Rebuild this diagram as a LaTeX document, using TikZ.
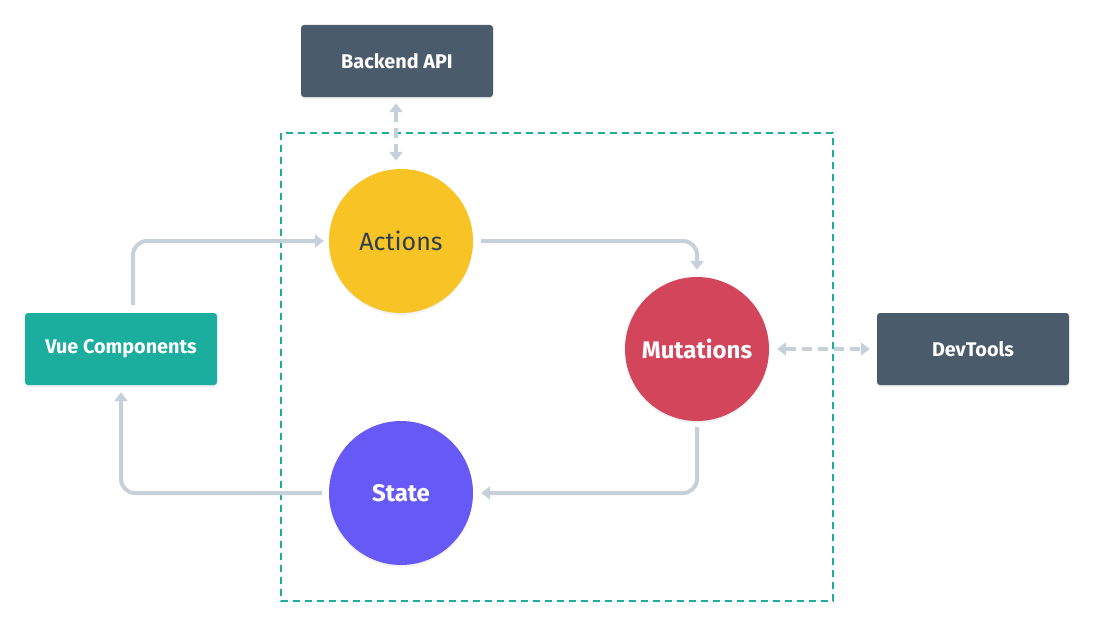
\documentclass[tikz,border=0pt]{standalone}
\usepackage{fontspec}
\setmainfont{Fira Sans}
\usetikzlibrary{arrows.meta,shadows}
\definecolor{vslate}{HTML}{4A5B6B}
\definecolor{vteal}{HTML}{1BAE9F}
\definecolor{vyellow}{HTML}{F8C425}
\definecolor{vred}{HTML}{D2455A}
\definecolor{vpurple}{HTML}{6759F5}
\definecolor{vline}{HTML}{C5D1DA}
\definecolor{vtext}{HTML}{2C3E50}
\definecolor{vdash}{HTML}{1BAE9F}
\begin{document}
\begin{tikzpicture}[x=1pt,y=-1pt,
  box/.style={rectangle, rounded corners=3pt, minimum width=192pt, minimum height=72pt,
    text=white, font=\bfseries\fontsize{19.8}{22}\selectfont, inner sep=0pt,
    drop shadow={opacity=.12, shadow xshift=0pt, shadow yshift=-2pt}},
  circ/.style={circle, minimum size=144pt, inner sep=0pt, font=\fontsize{25}{27}\selectfont,
    drop shadow={opacity=.10, shadow xshift=0pt, shadow yshift=-2pt}},
  flow/.style={draw=vline, line width=4pt, rounded corners=14pt,
    -{Triangle[width=13pt,length=9pt]}},
  dflow/.style={draw=vline, line width=4pt, dash pattern=on 10pt off 6pt,
    {Triangle[width=13pt,length=9pt]}-{Triangle[width=13pt,length=9pt]}}
]
\useasboundingbox (0,0) rectangle (1094,626);
\fill[white] (0,0) rectangle (1094,626);
\draw[vdash, line width=2pt, dash pattern=on 7pt off 5pt] (281,133) rectangle (833,601);

\node[box, fill=vslate] (api) at (397,61) {Backend API};
\node[box, fill=vteal] (vue) at (121,349) {Vue Components};
\node[box, fill=vslate] (dev) at (973,349) {DevTools};
\node[circ, fill=vyellow, text=vtext] (act) at (401,241) {Actions};
\node[circ, fill=vred, text=white, font=\bfseries\fontsize{24}{26}\selectfont] (mut) at (697,349) {Mutations};
\node[circ, fill=vpurple, text=white, font=\bfseries\fontsize{24}{26}\selectfont] (st) at (401,493) {State};

\draw[flow] ([xshift=12pt,yshift=8pt]vue.north) |- ([xshift=-5pt]act.west);
\draw[flow] ([xshift=8pt]act.east) -| ([yshift=7pt]mut.north);
\draw[flow] ([yshift=-6pt]mut.south) |- ([xshift=8pt]st.east);
\draw[flow] ([xshift=-7pt]st.west) -| ([yshift=-7pt]vue.south);

\draw[dflow, shorten <=6pt, shorten >=8pt] ([xshift=-1pt]api.south) -- ([xshift=-1pt]api.south |- act.north);
\draw[dflow, shorten <=8pt, shorten >=7pt] (mut.east) -- (dev.west);
\end{tikzpicture}
\end{document}
